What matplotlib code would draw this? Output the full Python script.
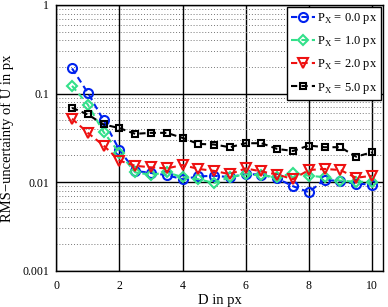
import matplotlib
matplotlib.use('Agg')
import matplotlib.pyplot as plt
from matplotlib.ticker import FixedLocator, FixedFormatter, LogLocator, NullFormatter

plt.rcParams['font.family'] = ['Liberation Serif', 'DejaVu Serif']
plt.rcParams['mathtext.fontset'] = 'custom'
plt.rcParams['mathtext.rm'] = 'Liberation Serif'

# Abstand D in px
d = [0.5, 1.0, 1.5, 2.0, 2.5, 3.0, 3.5, 4.0, 4.5, 5.0,
     5.5, 6.0, 6.5, 7.0, 7.5, 8.0, 8.5, 9.0, 9.5, 10.0]

rms_p0 = [0.192, 0.102, 0.0497, 0.0231, 0.0134, 0.0127, 0.0120, 0.0108, 0.0116, 0.0118,
          0.0114, 0.0123, 0.0122, 0.0110, 0.0090, 0.0077, 0.0107, 0.0102, 0.0096, 0.0094]
rms_p1 = [0.122, 0.075, 0.0367, 0.0214, 0.0129, 0.0121, 0.0129, 0.0114, 0.0108, 0.0098,
          0.0114, 0.0123, 0.0119, 0.0114, 0.0126, 0.0118, 0.0114, 0.0104, 0.0101, 0.0101]
rms_p2 = [0.052, 0.036, 0.0259, 0.0175, 0.0153, 0.0147, 0.0143, 0.0156, 0.0141, 0.0134,
          0.0123, 0.0143, 0.0132, 0.0122, 0.0108, 0.0137, 0.0141, 0.0137, 0.0112, 0.0118]
rms_p5 = [0.069, 0.058, 0.0448, 0.0407, 0.0351, 0.0360, 0.0360, 0.0316, 0.0270, 0.0266,
          0.0248, 0.0275, 0.0275, 0.0237, 0.0225, 0.0259, 0.0248, 0.0248, 0.0194, 0.0217]

labels = [r'P$_\mathrm{X}$ = 0.0 px', r'P$_\mathrm{X}$ = 1.0 px',
          r'P$_\mathrm{X}$ = 2.0 px', r'P$_\mathrm{X}$ = 5.0 px']
colors = ['#0022ee', '#33e08a', '#ee1111', 'black']
markers = ['o', 'D', 'v', 's']
sizes = [6.5, 5.5, 7, 5]

fig = plt.figure(figsize=(3.88, 3.07), dpi=100)
ax = fig.add_axes([0.145, 0.118, 0.842, 0.866])

for y, lab, c, m, ms in zip([rms_p0, rms_p1, rms_p2, rms_p5], labels, colors, markers, sizes):
    ax.plot(d, y, linestyle='--', color=c, marker=m, markersize=ms,
            markerfacecolor='none', markeredgecolor=c, markeredgewidth=1.5,
            linewidth=1.5, dashes=(3, 2), label=lab)

ax.set_yscale('log')
ax.set_xlim(0, 10.35)
ax.set_ylim(0.001, 1)
ax.set_xticks([0, 2, 4, 6, 8, 10])
ax.yaxis.set_major_locator(FixedLocator([0.001, 0.01, 0.1, 1]))
ax.yaxis.set_major_formatter(FixedFormatter(['0.001', '0.01', '0.1', '1']))
ax.yaxis.set_minor_locator(LogLocator(base=10, subs=range(2, 10)))
ax.yaxis.set_minor_formatter(NullFormatter())

ax.grid(True, which='major', color='black', linewidth=1.0, linestyle='-')
ax.grid(True, which='minor', axis='y', color='#777777', linewidth=0.7, linestyle=(0, (1, 2)))
ax.tick_params(which='both', direction='in', length=0, labelsize=8.5)
ax.tick_params(axis='x', pad=7)
ax.tick_params(axis='y', pad=5)
for s in ax.spines.values():
    s.set_linewidth(1.0)

ax.set_xlabel('D in px', fontsize=10.5, labelpad=1)
ax.set_ylabel('RMS\u2212uncertainty of U in px', fontsize=10.5, labelpad=6)

leg = ax.legend(loc='upper right', fontsize=9, handlelength=1.9, handletextpad=0.15,
                borderpad=0.35, labelspacing=0.65, fancybox=False, framealpha=1,
                borderaxespad=0.15)
leg.get_frame().set_edgecolor('black')
leg.get_frame().set_linewidth(1.0)

fig.savefig('out.png', dpi=100, facecolor='white')
